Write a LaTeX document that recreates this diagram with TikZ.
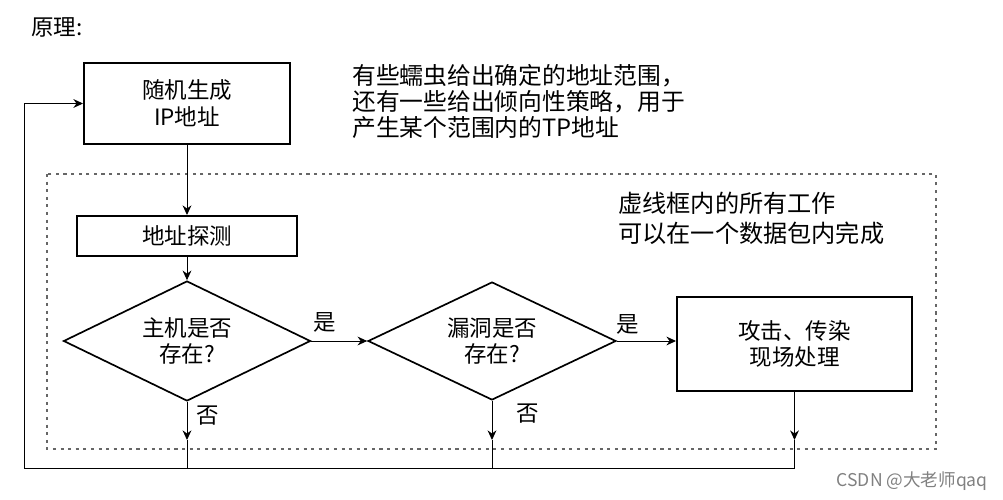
\documentclass[tikz,border=0pt]{standalone}
\usepackage{fontspec}
\setmainfont{Noto Sans CJK SC}
\usetikzlibrary{arrows.meta,shapes.geometric}
\def\pxu{0.025cm}

\begin{document}
\begin{tikzpicture}[x=0.025cm,y=-0.025cm,
    txt/.style={font=\fontsize{16}{19}\selectfont},
    box/.style={txt,draw,line width=1.4pt,inner sep=0pt,align=center},
    decision/.style={txt,draw,diamond,line width=1.2pt,inner sep=0pt,align=center},
    flow/.style={-{Stealth[length=2.4mm,width=2.2mm]},line width=0.7pt},
    note/.style={txt,anchor=west,align=left,inner sep=0pt},
    tag/.style={txt,inner sep=0pt}]
  \useasboundingbox (0,0) rectangle (1003,499);

  \node[txt,anchor=west,inner sep=0pt] (title) at (31,27) {原理:};

  \node[box,minimum width=206*\pxu,minimum height=81*\pxu] (gen) at (187,103.5)
    {随机生成\\IP地址};
  \node[note,font=\fontsize{16.9}{18.5}\selectfont] (hint) at (352,101)
    {有些蠕虫给出确定的地址范围，\\还有一些给出倾向性策略，用于\\产生某个范围内的TP地址};

  \draw[gray!80!black,line width=1pt,dash pattern=on 2.2pt off 3.2pt]
    (47,174) rectangle (936,449);
  \node[note,font=\fontsize{17.2}{21.3}\selectfont] (scope) at (618,218)
    {虚线框内的所有工作\\可以在一个数据包内完成};

  \node[box,minimum width=220*\pxu,minimum height=40*\pxu] (probe) at (187,236) {地址探测};
  \node[decision,minimum width=247*\pxu,minimum height=120*\pxu,aspect=2.06]
    (host) at (187,341) {主机是否\\存在?};
  \node[decision,minimum width=248*\pxu,minimum height=118*\pxu,aspect=2.1]
    (vuln) at (492,341) {漏洞是否\\存在?};
  \node[box,minimum width=235*\pxu,minimum height=94*\pxu] (attack) at (794.5,344)
    {攻击、传染\\现场处理};

  \coordinate (loop) at (24,468);
  \coordinate (tips) at (0,440);

  \draw[flow] (gen) -- (probe);
  \draw[flow] (probe) -- (host);
  \draw[flow] (host) -- (vuln);
  \draw[flow] (vuln.east) -- (vuln.east -| attack.west);
  \node[tag] (yes1) at (325,322) {是};
  \node[tag] (yes2) at (628,324) {是};
  \node[tag] (no1) at (208,416) {否};
  \node[tag] (no2) at (528,414) {否};

  \draw[flow] (host.south) -- (host.south |- tips);
  \draw[flow] (vuln.south) -- (vuln.south |- tips);
  \draw[flow] (attack.south) -- (attack.south |- tips);
  \draw[line width=0.7pt] (host.south |- tips) -- (host.south |- loop);
  \draw[line width=0.7pt] (vuln.south |- tips) -- (vuln.south |- loop);
  \draw[flow] (attack.south |- tips) -- (attack.south |- loop) -- (loop) |- (gen.west);

  \node[anchor=east,inner sep=0pt,gray,font=\fontsize{12.5}{14}\selectfont] (mark) at (988,481)
    {CSDN @大老师qaq};
\end{tikzpicture}
\end{document}
